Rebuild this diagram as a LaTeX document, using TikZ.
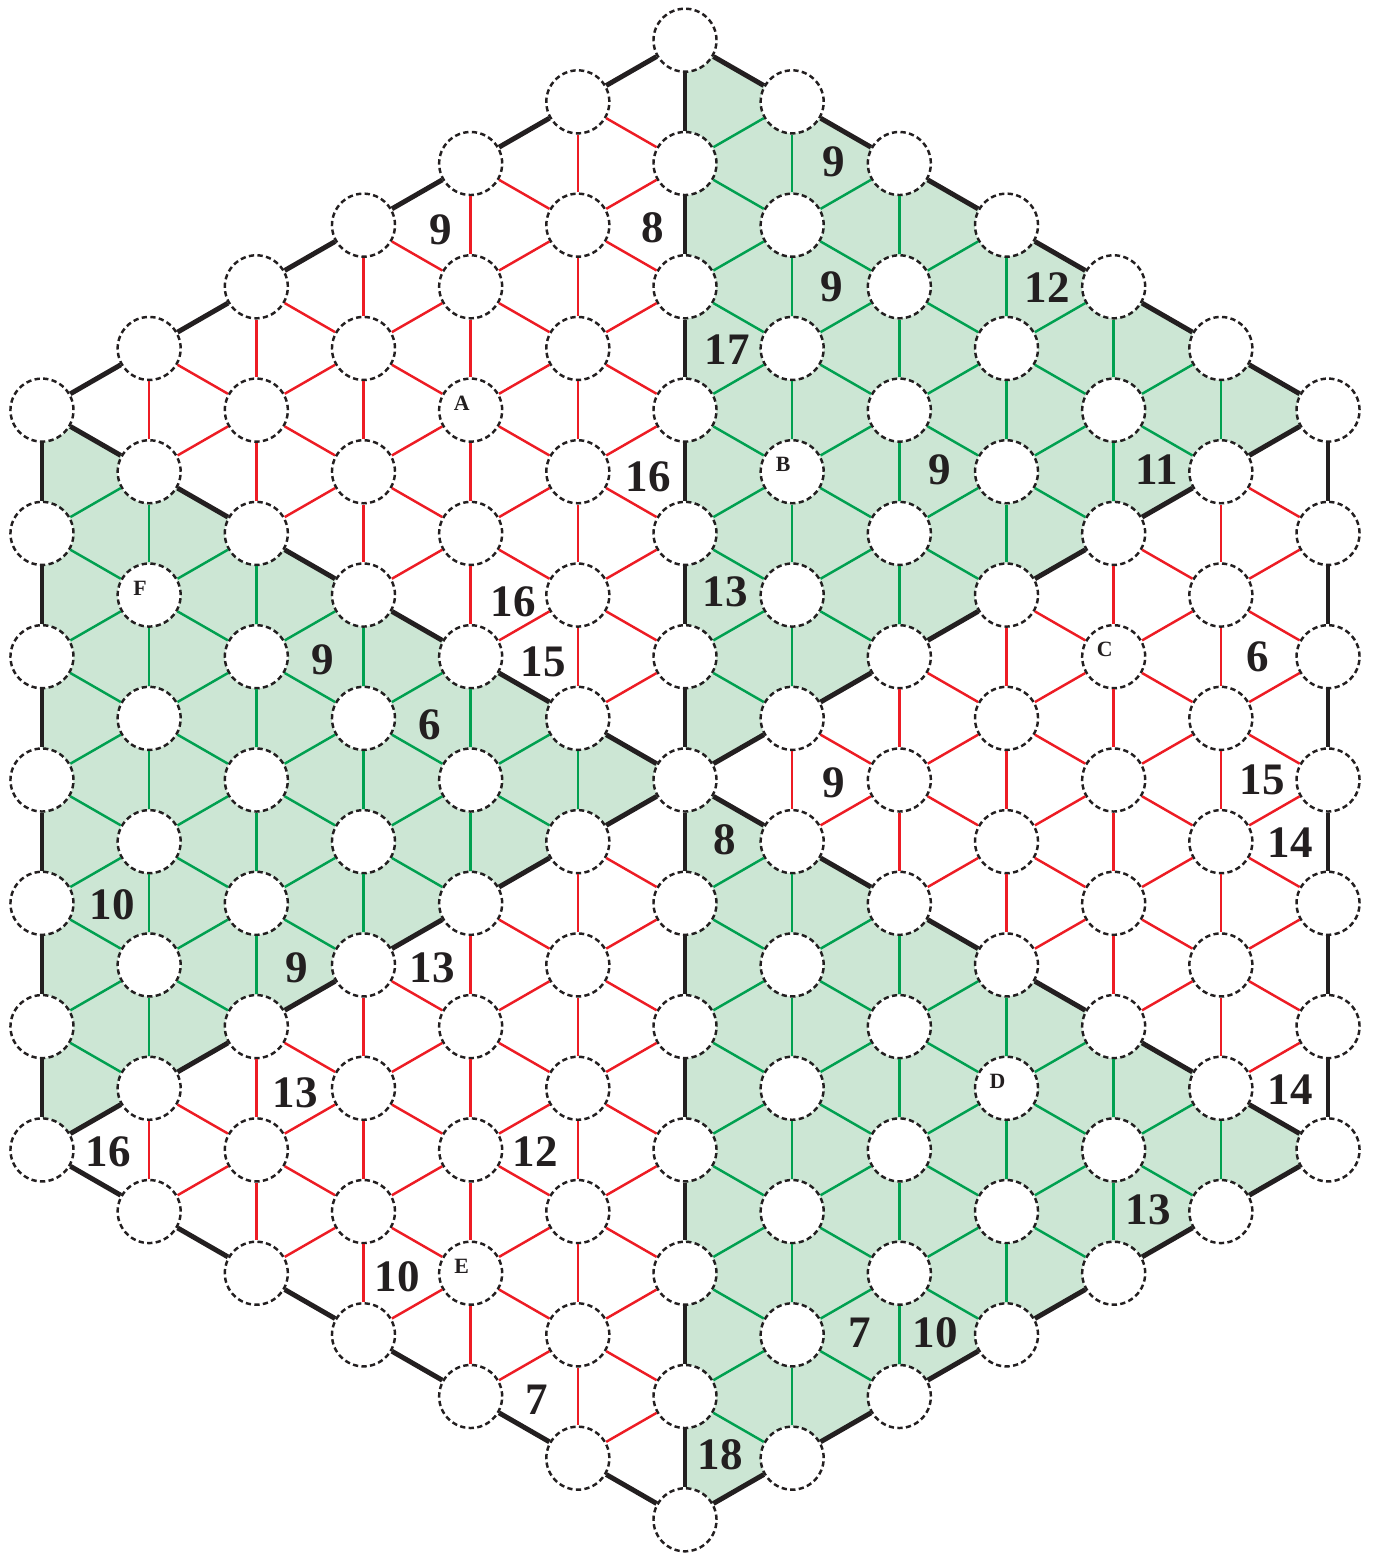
\documentclass[tikz,border=0pt]{standalone}
\usepackage{fontspec}
\setmainfont{Liberation Serif}
\usetikzlibrary{backgrounds}

\definecolor{cellgreen}{RGB}{204,230,212}
\definecolor{linegreen}{RGB}{0,160,80}
\definecolor{linered}{RGB}{237,28,36}
\definecolor{inkblack}{RGB}{35,31,32}

\tikzset{
  spot/.style={circle, draw=inkblack, fill=white, line width=0.7pt,
    dash pattern=on 1.5pt off 0.95pt, minimum size=0.63cm, inner sep=0pt},
  rim/.style={draw=inkblack, line width=1.4pt},
  linkg/.style={draw=linegreen, line width=0.7pt},
  linkr/.style={draw=linered, line width=0.7pt},
  clue/.style={text=inkblack, font=\fontsize{12.8}{15}\selectfont\bfseries, inner sep=0pt},
  spottag/.style={text=inkblack, font=\fontsize{6.2}{7}\selectfont\bfseries, inner sep=0pt},
}

% joins two neighbouring spots; colour from the triangle the segment lies in
\newcommand\hexlink[4]{%
  \pgfmathtruncatemacro\hasq{(#3<=12)&&(#4>=0)&&(#4<=12)&&(#3+#4>=6)&&(#3+#4<=18)}%
  \ifnum\hasq=1
    \pgfmathtruncatemacro\hexk{#1+#3-12}%
    \pgfmathtruncatemacro\hexm{#2+#4-12}%
    \pgfmathtruncatemacro\hexs{\hexk+\hexm}%
    \pgfmathtruncatemacro\rimq{(\hexk==0)||(abs(\hexk)==12)||(\hexm==0)||(abs(\hexm)==12)||(\hexs==0)||(abs(\hexs)==12)}%
    \pgfmathtruncatemacro\greenq{((\hexk>0)&&(\hexs<0))||((\hexk>0)&&(\hexm>0))||((\hexk<0)&&(\hexm>0)&&(\hexs<0))}%
    \ifnum\rimq=1 \draw[rim] (n-#1-#2) -- (n-#3-#4);
    \else\ifnum\greenq=1 \draw[linkg] (n-#1-#2) -- (n-#3-#4);
    \else \draw[linkr] (n-#1-#2) -- (n-#3-#4);
    \fi\fi
  \fi}

\begin{document}
\begin{tikzpicture}[x=0.01cm, y=-0.01cm]
  \useasboundingbox (0,0) rectangle (1372,1554);

  \foreach \i in {0,...,12}
    \foreach \j in {0,...,12}
    {
      \pgfmathtruncatemacro\hexsum{\i+\j}
      \ifnum\hexsum<6 \else\ifnum\hexsum>18 \else
        \node[spot] (n-\i-\j) at ({685+107.17*(\i-6)}, {780+61.65*(\i-6)+123.3*(\j-6)}) {};
      \fi\fi
    }

  \begin{scope}[on background layer]
    \fill[cellgreen] (n-6-0.center) -- (n-12-0.center) -- (n-6-6.center) -- cycle;
    \fill[cellgreen] (n-12-6.center) -- (n-6-12.center) -- (n-6-6.center) -- cycle;
    \fill[cellgreen] (n-0-12.center) -- (n-0-6.center) -- (n-6-6.center) -- cycle;
  \end{scope}

  \foreach \i in {0,...,12}
    \foreach \j in {0,...,12}
    {
      \pgfmathtruncatemacro\hexsum{\i+\j}
      \ifnum\hexsum<6 \else\ifnum\hexsum>18 \else
        \pgfmathtruncatemacro\ia{\i+1}
        \pgfmathtruncatemacro\jb{\j+1}
        \pgfmathtruncatemacro\jc{\j-1}
        \hexlink{\i}{\j}{\i}{\jb}
        \hexlink{\i}{\j}{\ia}{\j}
        \hexlink{\i}{\j}{\ia}{\jc}
      \fi\fi
    }

  \foreach \x/\y/\val [count=\c] in {441/230/9, 653/228/8, 834/162/9, 832/287/9,
      1047/288/12, 727/350/17, 648/477/16, 940/470/9, 1157/470/11, 513/602/16,
      725/592/13, 543/662/15, 323/660/9, 430/725/6, 1258/657/6, 834/783/9,
      1262/780/15, 725/840/8, 1290/843/14, 112/905/10, 297/968/9, 432/968/13,
      295/1093/13, 1290/1090/14, 108/1152/16, 535/1152/12, 1148/1210/13,
      397/1277/10, 860/1333/7, 935/1333/10, 537/1400/7, 720/1455/18}
    \node[clue] (clue-\c) at (\x,\y) {\val};

  \foreach \who/\ii/\jj in {A/4/4, B/7/3, C/10/3, D/9/7, E/4/11, F/1/7}
    \node[spottag] (tag-\who) at ([shift={(-9,-7)}]n-\ii-\jj.center) {\who};
\end{tikzpicture}
\end{document}
